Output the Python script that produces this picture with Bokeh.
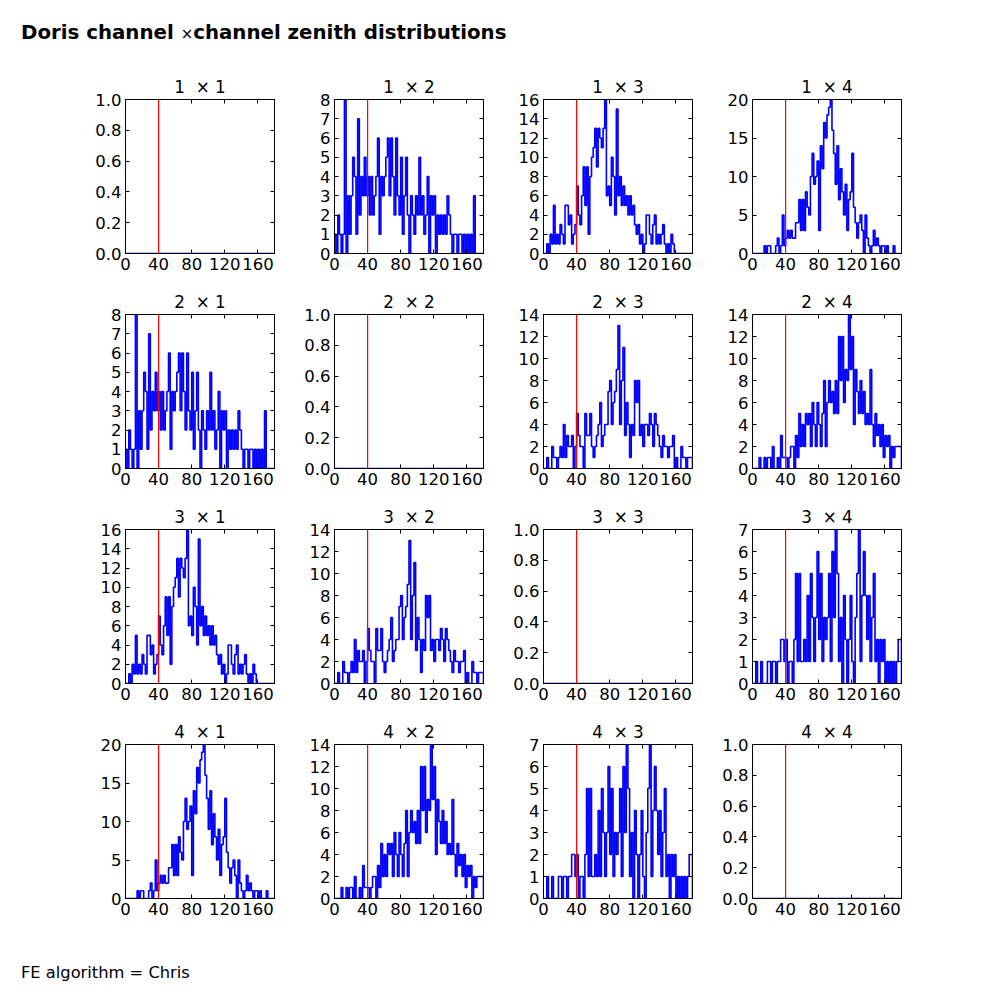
import numpy as np
from bokeh.plotting import figure
from bokeh.models import (Range1d, FixedTicker, LinearAxis, Span, Div,
                          PrintfTickFormatter, CustomLabelingPolicy)
from bokeh.layouts import column, row
from bokeh.embed import file_html
from bokeh.resources import INLINE

# ---------------- data ----------------
CHANNELS = [1, 2, 3, 4]
BIN_WIDTH = 2          # degrees per histogram bin
X_MAX = 180            # zenith range 0..180
CUT_ZENITH = 40        # red marker line
X_TICKS = [0, 40, 80, 120, 160]

counts_1x2 = [1, 0, 2, 1, 0, 1, 8, 0, 3, 1,
              3, 5, 4, 1, 7, 2, 4, 3, 5, 3,
              4, 2, 4, 2, 3, 4, 6, 1, 4, 3,
              4, 5, 6, 3, 6, 4, 2, 6, 3, 2,
              5, 1, 3, 5, 2, 0, 3, 2, 1, 3,
              2, 5, 2, 3, 1, 2, 4, 0, 3, 2,
              3, 0, 2, 1, 2, 1, 2, 1, 3, 2,
              1, 0, 1, 1, 0, 1, 1, 0, 1, 0,
              1, 0, 1, 0, 3, 0, 0, 0, 0, 0]

counts_1x3 = [0, 0, 1, 0, 2, 1, 5, 1, 2, 1,
              3, 2, 1, 5, 5, 3, 4, 1, 2, 3,
              7, 4, 3, 6, 9, 5, 9, 2, 8, 10,
              11, 13, 9, 13, 12, 11, 13, 16, 6, 7,
              5, 10, 8, 4, 15, 6, 8, 5, 7, 5,
              6, 4, 6, 4, 5, 3, 2, 3, 1, 2,
              0, 1, 4, 4, 2, 1, 3, 4, 1, 2,
              1, 2, 3, 1, 0, 1, 0, 2, 1, 0,
              0, 0, 0, 0, 0, 0, 0, 0, 0, 0]

counts_1x4 = [0, 0, 0, 0, 0, 0, 0, 1, 0, 1,
              1, 0, 0, 0, 1, 2, 0, 1, 5, 1,
              2, 3, 2, 3, 2, 2, 4, 4, 7, 3,
              7, 3, 8, 6, 5, 10, 13, 9, 10, 12,
              3, 14, 11, 17, 15, 18, 19, 20, 16, 13,
              9, 14, 7, 11, 8, 5, 9, 3, 7, 8,
              13, 6, 4, 2, 4, 5, 3, 0, 5, 2,
              1, 0, 1, 3, 1, 2, 1, 0, 1, 1,
              0, 1, 0, 0, 0, 1, 0, 0, 0, 0]

counts_2x3 = [0, 0, 1, 0, 0, 2, 1, 1, 0, 1,
              2, 1, 4, 1, 3, 2, 2, 3, 0, 2,
              5, 3, 2, 2, 0, 5, 3, 3, 5, 2,
              1, 2, 3, 4, 6, 2, 3, 4, 4, 7,
              8, 4, 6, 7, 9, 13, 4, 8, 11, 3,
              6, 4, 1, 4, 3, 8, 6, 8, 3, 4,
              2, 4, 4, 3, 5, 4, 2, 5, 4, 3,
              2, 1, 3, 2, 2, 1, 2, 2, 3, 0,
              1, 0, 0, 2, 1, 1, 0, 1, 1, 1]

counts_2x4 = [0, 0, 0, 0, 1, 0, 0, 1, 0, 1,
              1, 0, 2, 0, 0, 1, 0, 3, 1, 1,
              1, 0, 1, 2, 2, 0, 3, 1, 5, 2,
              4, 2, 5, 4, 5, 2, 6, 4, 2, 6,
              4, 2, 5, 8, 2, 6, 8, 6, 7, 5,
              8, 5, 12, 8, 12, 6, 9, 8, 14, 9,
              12, 4, 9, 7, 5, 8, 5, 7, 4, 5,
              4, 9, 4, 2, 5, 3, 4, 2, 4, 1,
              3, 2, 3, 0, 2, 1, 2, 2, 2, 2]

counts_3x4 = [0, 0, 1, 0, 0, 1, 0, 0, 0, 1,
              1, 0, 1, 1, 0, 1, 1, 2, 2, 1,
              2, 0, 1, 1, 0, 2, 5, 1, 5, 1,
              1, 2, 1, 4, 1, 5, 3, 1, 3, 6,
              2, 5, 1, 3, 2, 3, 5, 1, 6, 3,
              7, 5, 1, 3, 0, 4, 2, 0, 2, 4,
              1, 0, 3, 5, 7, 1, 4, 6, 4, 2,
              4, 1, 3, 5, 1, 2, 0, 2, 1, 2,
              0, 1, 0, 1, 0, 1, 0, 1, 2, 2]

PAIR_COUNTS = {(1, 2): counts_1x2, (1, 3): counts_1x3, (1, 4): counts_1x4,
               (2, 3): counts_2x3, (2, 4): counts_2x4, (3, 4): counts_3x4}

# y axis (max, tick step) per channel pair; empty diagonal panels use 0..1
Y_AXIS = {(1, 2): (8, 1), (1, 3): (16, 2), (1, 4): (20, 5),
          (2, 3): (14, 2), (2, 4): (14, 2), (3, 4): (7, 1)}
EMPTY_AXIS = (1.0, 0.2)

FOOTER = "FE algorithm = Chris"

# ---------------- styling ----------------
FONT = "DejaVu Sans"
TICK_SIZE = "16.5px"
TITLE_SIZE = "16.8px"
FRAME_W, FRAME_H = 149, 154
NBSP = "\u00a0"

nbins = X_MAX // BIN_WIDTH
edges = np.arange(0, X_MAX + BIN_WIDTH, BIN_WIDTH)

HIDE_ALL = CustomLabelingPolicy(code="""
    for (const i of indices) { indices.unset(i) }
    return indices
""")


def style_axis(ax, show_labels):
    ax.major_tick_in = 4
    ax.major_tick_out = 0
    ax.minor_tick_in = 0
    ax.minor_tick_out = 0
    ax.axis_line_color = "black"
    ax.major_tick_line_color = "black"
    ax.major_label_text_font = FONT
    ax.major_label_text_color = "black"
    if show_labels:
        ax.major_label_text_font_size = TICK_SIZE
        ax.major_label_standoff = 4
    else:
        ax.major_label_text_font_size = "0px"
        ax.major_label_standoff = 0
        ax.major_label_policy = HIDE_ALL


def make_panel(i, j, first_col):
    key = (min(i, j), max(i, j))
    if i == j:
        counts = [0] * nbins
        ymax, ystep = EMPTY_AXIS
        fmt = PrintfTickFormatter(format="%.1f")
    else:
        counts = PAIR_COUNTS[key]
        ymax, ystep = Y_AXIS[key]
        fmt = PrintfTickFormatter(format="%d")
    assert len(counts) == nbins
    yticks = [float(t) for t in np.round(np.arange(0, ymax + ystep / 2, ystep), 6)]

    p = figure(frame_width=FRAME_W, frame_height=FRAME_H,
               x_range=Range1d(0, X_MAX), y_range=Range1d(0, ymax),
               output_backend="svg", toolbar_location=None,
               title=f"{i}{NBSP}{NBSP}\u00d7{NBSP}{j}",
               min_border_left=125 if first_col else 50, min_border_right=10,
               min_border_top=35, min_border_bottom=26)
    p.grid.visible = False
    p.outline_line_color = "black"
    p.outline_line_alpha = 1.0
    p.background_fill_color = "white"
    p.border_fill_color = "white"

    p.title.text_font = FONT
    p.title.text_font_size = TITLE_SIZE
    p.title.text_font_style = "normal"
    p.title.text_color = "black"
    p.title.align = "center"
    p.title.standoff = 5

    p.xaxis.ticker = FixedTicker(ticks=X_TICKS)
    p.yaxis.ticker = FixedTicker(ticks=yticks)
    p.yaxis.formatter = fmt
    style_axis(p.xaxis[0], True)
    style_axis(p.yaxis[0], True)

    top = LinearAxis(ticker=FixedTicker(ticks=X_TICKS))
    style_axis(top, False)
    p.add_layout(top, "above")
    right = LinearAxis(ticker=FixedTicker(ticks=yticks))
    style_axis(right, False)
    p.add_layout(right, "right")

    c = np.asarray(counts, dtype=float)
    xs = np.repeat(edges, 2)
    ys = np.concatenate([[0.0], np.repeat(c, 2), [0.0]])
    p.line(xs, ys, line_color="blue", line_width=1.6)

    p.add_layout(Span(location=CUT_ZENITH, dimension="height",
                      line_color="red", line_width=1.2))
    return p


rows = []
for i in CHANNELS:
    rows.append(row([make_panel(i, j, j == CHANNELS[0]) for j in CHANNELS]))

title_div = Div(
    text=(f'<div style="font-family:\'{FONT}\';font-weight:bold;font-size:19.8px;'
          f'padding:19px 0 0 21px;white-space:nowrap;color:black;">'
          f'Doris channel <span style="font-weight:normal;font-size:15px;">\u00d7</span>'
          f'channel zenith distributions</div>'),
    width=900, height=64, margin=(0, 0, 0, 0))

footer_div = Div(
    text=(f'<div style="font-family:\'{FONT}\';font-size:16.3px;padding:37px 0 0 21px;'
          f'white-space:nowrap;color:black;">{FOOTER}</div>'),
    width=900, height=60, margin=(0, 0, 0, 0))

layout = column([title_div] + rows + [footer_div])

open("out.html", "w").write(file_html(layout, INLINE))
